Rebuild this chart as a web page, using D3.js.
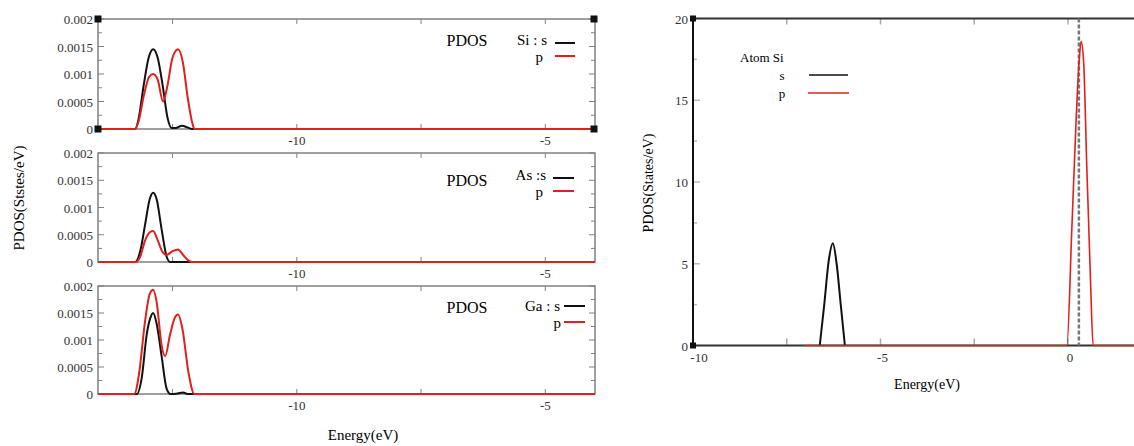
<!DOCTYPE html>
<html>
<head>
<meta charset="utf-8">
<script src="https://cdn.jsdelivr.net/npm/d3@7"></script>
<style>
  body { margin: 0; background: #fff; }
  svg { display: block; font-family: "Liberation Serif", "DejaVu Serif", serif; }
</style>
</head>
<body>
<div id="wrapper"></div>
<script>
// PDOS data, [energy (eV), states/eV]
const siS = [[-14, 0], [-13.25, 0], [-13.18, 0.0002], [-13.08, 0.0008], [-12.98, 0.0013], [-12.89, 0.00145], [-12.8, 0.0013], [-12.7, 0.0008], [-12.6, 0.0002], [-12.52, 0.00002], [-12.44, 0.00002], [-12.31, 0.00006], [-12.2, 0.00003], [-12.1, 0], [-4, 0]];
const siP = [[-14, 0], [-13.26, 0], [-13.18, 0.00015], [-13.08, 0.0006], [-12.97, 0.00095], [-12.89, 0.001], [-12.8, 0.0009], [-12.69, 0.0005], [-12.6, 0.0008], [-12.5, 0.0013], [-12.39, 0.00145], [-12.29, 0.0012], [-12.2, 0.0006], [-12.1, 0.0001], [-12.06, 0], [-4, 0]];
const asS = [[-14, 0], [-13.25, 0], [-13.15, 0.0002], [-13.05, 0.0007], [-12.96, 0.00115], [-12.89, 0.00127], [-12.82, 0.00115], [-12.72, 0.0006], [-12.62, 0.0001], [-12.55, 0], [-4, 0]];
const asP = [[-14, 0], [-13.25, 0], [-13.15, 0.0001], [-13.05, 0.0004], [-12.95, 0.00055], [-12.89, 0.00057], [-12.8, 0.0004], [-12.7, 0.00018], [-12.62, 0.00013], [-12.5, 0.0002], [-12.39, 0.00023], [-12.28, 0.00012], [-12.15, 0.00001], [-12.09, 0], [-4, 0]];
const gaS = [[-14, 0], [-13.22, 0], [-13.12, 0.0003], [-13.02, 0.0011], [-12.95, 0.0014], [-12.89, 0.0015], [-12.82, 0.0013], [-12.72, 0.0007], [-12.62, 0.0001], [-12.54, 0], [-12.4, 0.00001], [-12.29, 0.00003], [-12.2, 0], [-4, 0]];
const gaP = [[-14, 0], [-13.27, 0], [-13.17, 0.0004], [-13.06, 0.0013], [-12.96, 0.00185], [-12.89, 0.00193], [-12.82, 0.0017], [-12.72, 0.0009], [-12.65, 0.0007], [-12.55, 0.0011], [-12.46, 0.0014], [-12.39, 0.00147], [-12.3, 0.0012], [-12.18, 0.0004], [-12.06, 0], [-4, 0]];

// atom Si, right chart
const atomS = [[-6.62, 0], [-6.5, 2.5], [-6.38, 5.2], [-6.27, 6.25], [-6.17, 5.0], [-6.06, 2.5], [-5.95, 0]];
const atomP = [[-7.07, 0], [-0.03, 0], [0.1, 7], [0.22, 14], [0.3, 17.5], [0.35, 18.6], [0.42, 17.2], [0.5, 11], [0.6, 4], [0.67, 0], [2, 0]];
const fermi = 0.29;

const leftXTicks = [-12.5, -10, -7.5, -5];
const leftXLabels = [-10, -5];
const leftYTicks = [0, 0.0005, 0.001, 0.0015, 0.002];
const rightYTicks = [0, 5, 10, 15, 20];
const rightXTicks = [-10, -5, 0];

// legend placement per panel (offsets from panel top)
const panels = [
  { atom: "Si : s", s: siS, p: siP, top: 19, bottom: 129,
    leg: { pdos: 27, atom: 26, sLine: 24, p: 43, pLine: 37, textEnd: 547, pEnd: 543, l1: 555, l2: 575 } },
  { atom: "As :s", s: asS, p: asP, top: 153, bottom: 262,
    leg: { pdos: 33, atom: 27, sLine: 25, p: 44, pLine: 38, textEnd: 546, pEnd: 543, l1: 553, l2: 574 } },
  { atom: "Ga : s", s: gaS, p: gaP, top: 286, bottom: 394,
    leg: { pdos: 27, atom: 25, sLine: 20, p: 42, pLine: 36, textEnd: 560, pEnd: 561, l1: 564, l2: 585 } }
];

const svg = d3.select("#wrapper").append("svg")
  .attr("width", 1134).attr("height", 446);

// ---- left: three stacked panels
const xL = d3.scaleLinear().domain([-14, -4]).range([98, 595]);
const frame = "#808080";

panels.forEach((pn, i) => {
  const y = d3.scaleLinear().domain([0, 0.002]).range([pn.bottom, pn.top]);
  const g = svg.append("g");

  g.append("rect")
    .attr("x", xL.range()[0]).attr("y", pn.top)
    .attr("width", xL.range()[1] - xL.range()[0]).attr("height", pn.bottom - pn.top)
    .attr("fill", "none").attr("stroke", frame).attr("stroke-width", 1.5);

  // minor y ticks on both sides
  d3.range(0, 0.00201, 0.00025).forEach(v => {
    const major = leftYTicks.some(t => Math.abs(t - v) < 1e-9);
    const len = major ? 6 : 4;
    g.append("line").attr("x1", xL.range()[0]).attr("x2", xL.range()[0] + len)
      .attr("y1", y(v)).attr("y2", y(v)).attr("stroke", frame).attr("stroke-width", 1);
    g.append("line").attr("x1", xL.range()[1]).attr("x2", xL.range()[1] - len)
      .attr("y1", y(v)).attr("y2", y(v)).attr("stroke", frame).attr("stroke-width", 1);
  });
  leftYTicks.forEach(v => {
    g.append("text").attr("x", 93).attr("y", y(v) + 5)
      .attr("text-anchor", "end").attr("font-size", 13).attr("fill", "#333")
      .text(v);
  });
  leftXTicks.forEach(v => {
    g.append("line").attr("x1", xL(v)).attr("x2", xL(v))
      .attr("y1", pn.top).attr("y2", pn.top + 5).attr("stroke", frame);
    g.append("line").attr("x1", xL(v)).attr("x2", xL(v))
      .attr("y1", pn.bottom).attr("y2", pn.bottom - 5).attr("stroke", frame);
  });
  leftXLabels.forEach(v => {
    g.append("text").attr("x", xL(v)).attr("y", pn.bottom + 16)
      .attr("text-anchor", "middle").attr("font-size", 13).attr("fill", "#333")
      .text(v);
  });

  const line = d3.line().x(d => xL(d[0])).y(d => y(d[1])).curve(d3.curveMonotoneX);
  g.append("path").attr("d", line(pn.s)).attr("fill", "none")
    .attr("stroke", "#111").attr("stroke-width", 2);
  g.append("path").attr("d", line(pn.p)).attr("fill", "none")
    .attr("stroke", "#e0201c").attr("stroke-width", 2);

  // legend
  const L = pn.leg;
  g.append("text").attr("x", 467).attr("y", pn.top + L.pdos).attr("text-anchor", "middle")
    .attr("font-size", 16).text("PDOS");
  g.append("text").attr("x", L.textEnd).attr("y", pn.top + L.atom).attr("text-anchor", "end")
    .attr("font-size", 15).text(pn.atom);
  g.append("text").attr("x", L.pEnd).attr("y", pn.top + L.p).attr("text-anchor", "end")
    .attr("font-size", 15).text("p");
  g.append("line").attr("x1", L.l1).attr("x2", L.l2).attr("y1", pn.top + L.sLine).attr("y2", pn.top + L.sLine)
    .attr("stroke", "#111").attr("stroke-width", 2);
  g.append("line").attr("x1", L.l1).attr("x2", L.l2).attr("y1", pn.top + L.pLine).attr("y2", pn.top + L.pLine)
    .attr("stroke", "#e0201c").attr("stroke-width", 2);

  if (i === 0) {
    [[98, 19], [98, 129], [594, 19], [594, 129]].forEach(c => {
      g.append("rect").attr("x", c[0] - 3.5).attr("y", c[1] - 3.5)
        .attr("width", 7).attr("height", 7).attr("fill", "#111");
    });
  }
});

svg.append("text").attr("transform", "translate(24,198) rotate(-90)")
  .attr("text-anchor", "middle").attr("font-size", 15).text("PDOS(Ststes/eV)");
svg.append("text").attr("x", 363).attr("y", 440)
  .attr("text-anchor", "middle").attr("font-size", 15).text("Energy(eV)");

// ---- right: atom Si
const xR = d3.scaleLinear().domain([-10, 2]).range([693, 1143]);
const yR = d3.scaleLinear().domain([0, 20]).range([345.5, 18.5]);
const gr = svg.append("g");

d3.range(0, 20.1, 2.5).forEach(v => {
  gr.append("line").attr("x1", xR(-10)).attr("x2", xR(-10) + (v % 5 === 0 ? 7 : 4))
    .attr("y1", yR(v)).attr("y2", yR(v)).attr("stroke", "#bbb").attr("stroke-width", 1.5);
});
[-7.5, -5, -2.5, 0].forEach(v => {
  gr.append("line").attr("x1", xR(v)).attr("x2", xR(v))
    .attr("y1", yR(20)).attr("y2", yR(20) + 6).attr("stroke", "#aaa").attr("stroke-width", 1.5);
  gr.append("line").attr("x1", xR(v)).attr("x2", xR(v))
    .attr("y1", yR(0)).attr("y2", yR(0) - 7).attr("stroke", "#aaa").attr("stroke-width", 1.5);
});

gr.append("line").attr("x1", xR(-10)).attr("x2", 1134).attr("y1", yR(20)).attr("y2", yR(20))
  .attr("stroke", "#333").attr("stroke-width", 2);
gr.append("line").attr("x1", xR(-10)).attr("x2", 1134).attr("y1", yR(0)).attr("y2", yR(0))
  .attr("stroke", "#333").attr("stroke-width", 2);
gr.append("line").attr("x1", xR(-10)).attr("x2", xR(-10)).attr("y1", yR(20)).attr("y2", yR(0))
  .attr("stroke", "#111").attr("stroke-width", 2);

gr.append("line").attr("x1", xR(fermi)).attr("x2", xR(fermi)).attr("y1", yR(20)).attr("y2", yR(0))
  .attr("stroke", "#777").attr("stroke-width", 2.5).attr("stroke-dasharray", "4,2");

const lineR = d3.line().x(d => xR(d[0])).y(d => yR(d[1])).curve(d3.curveMonotoneX);
gr.append("path").attr("d", lineR(atomS)).attr("fill", "none")
  .attr("stroke", "#111").attr("stroke-width", 2);
gr.append("path").attr("d", lineR(atomP)).attr("fill", "none")
  .attr("stroke", "#e0201c").attr("stroke-width", 1.6);

[[xR(-10), yR(20)], [xR(-10), yR(0)]].forEach(c => {
  gr.append("rect").attr("x", c[0] - 3).attr("y", c[1] - 3)
    .attr("width", 6).attr("height", 6).attr("fill", "#111");
});

rightYTicks.forEach(v => {
  gr.append("text").attr("x", 688).attr("y", yR(v) + 5).attr("text-anchor", "end")
    .attr("font-size", 13).attr("fill", "#333").text(v);
});
rightXTicks.forEach(v => {
  gr.append("text").attr("x", xR(v) + (v === -10 ? 6 : 2)).attr("y", 362).attr("text-anchor", "middle")
    .attr("font-size", 13).attr("fill", "#333").text(v);
});

gr.append("text").attr("x", 740).attr("y", 62).attr("font-size", 13).text("Atom Si");
gr.append("text").attr("x", 782).attr("y", 80).attr("text-anchor", "middle").attr("font-size", 13).text("s");
gr.append("text").attr("x", 782).attr("y", 98).attr("text-anchor", "middle").attr("font-size", 13).text("p");
gr.append("line").attr("x1", 809).attr("x2", 848).attr("y1", 75).attr("y2", 75)
  .attr("stroke", "#111").attr("stroke-width", 1.5);
gr.append("line").attr("x1", 808).attr("x2", 849).attr("y1", 93).attr("y2", 93)
  .attr("stroke", "#e0201c").attr("stroke-width", 1.5);

svg.append("text").attr("transform", "translate(653,183) rotate(-90)")
  .attr("text-anchor", "middle").attr("font-size", 14).text("PDOS(States/eV)");
svg.append("text").attr("x", 927).attr("y", 389)
  .attr("text-anchor", "middle").attr("font-size", 14).text("Energy(eV)");
</script>
</body>
</html>
